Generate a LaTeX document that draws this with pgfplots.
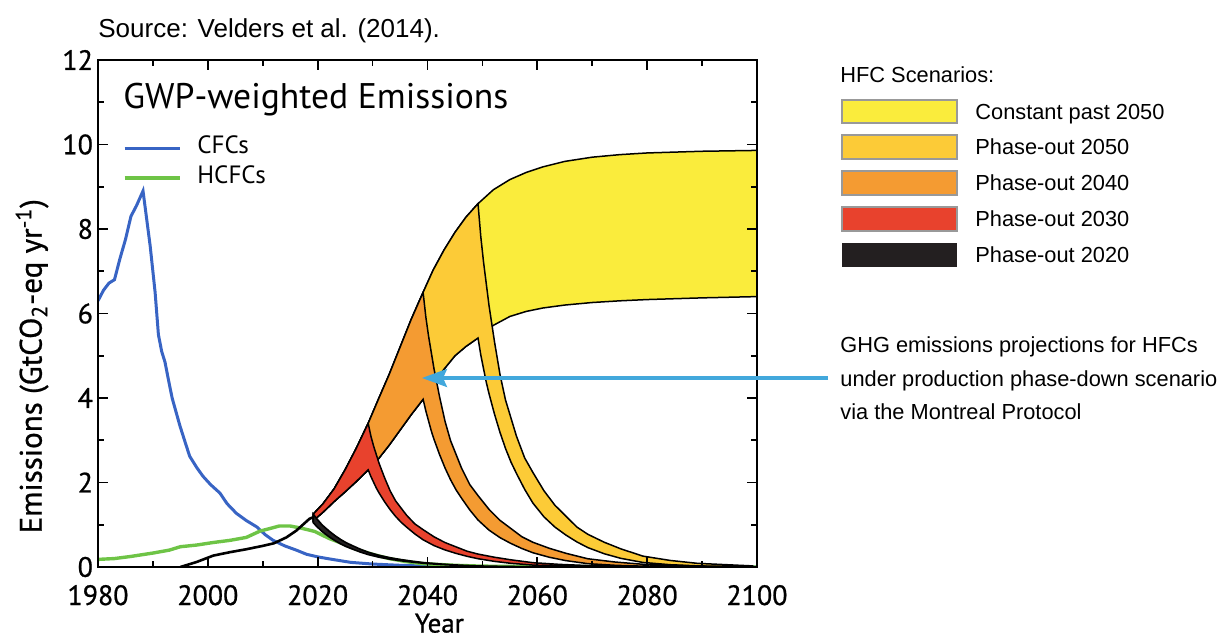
\documentclass[border=0pt]{standalone}
\usepackage{fontspec}
\setmainfont{Liberation Sans}
\newfontface\chartfont{PT Sans}
\newfontface\chartfontb{PT Sans}[FakeBold=0.8]
\usepackage{pgfplots}
\pgfplotsset{compat=1.18}
\usetikzlibrary{arrows.meta}
\definecolor{cYellow}{RGB}{250,236,60}
\definecolor{cGold}{RGB}{252,203,55}
\definecolor{cOrange}{RGB}{244,155,50}
\definecolor{cRed}{RGB}{232,66,45}
\definecolor{cBlack}{RGB}{35,31,32}
\definecolor{cBlue}{RGB}{56,100,196}
\definecolor{cGreen}{RGB}{110,196,70}
\definecolor{cArrow}{RGB}{66,168,220}
\begin{document}
\begin{tikzpicture}
\useasboundingbox (0,0) rectangle (614pt,319pt);
\begin{axis}[
  at={(49pt,35.5pt)}, anchor=south west,
  scale only axis, width=329.5pt, height=253.5pt,
  xmin=1980, xmax=2100, ymin=0, ymax=12,
  xtick={1980,2000,...,2100}, ytick={0,2,...,12},
  minor x tick num=1, minor y tick num=1,
  tick align=inside,
  major tick length=5pt, minor tick length=3pt,
  axis line style={line width=1.1pt},
  every tick/.style={black, line width=0.9pt},
  axis on top,
  /pgf/number format/assume math mode=true,
  /pgf/number format/set thousands separator={},
  ticklabel style={font=\chartfontb\fontsize{14}{14}\selectfont},
  xticklabel style={yshift=-5.5pt},
  yticklabel style={xshift=1pt},
  xlabel={Year},
  xlabel style={at={(axis description cs:0.518,-0.111)}, anchor=center, inner sep=1pt, font=\chartfontb\fontsize{13.5}{14}\selectfont},
  ylabel={Emissions (GtCO\textsubscript{2}-eq yr\textsuperscript{-1})},
  ylabel style={at={(axis description cs:-0.1,0.396)}, anchor=center, font=\chartfontb\fontsize{15.5}{16}\selectfont},
  legend style={at={(axis description cs:0.038,0.856)}, anchor=north west, draw=none, fill=none, inner sep=0pt, outer sep=0pt,
    font=\chartfont\fontsize{12.5}{13}\selectfont, row sep=0pt, nodes={inner sep=1pt, text height=9pt, text depth=4pt},
    /tikz/every odd column/.append style={column sep=7pt}},
  legend image code/.code={\draw[#1] (0pt,0pt) -- (27.5pt,0pt);},
  legend cell align=left,
]
% CFCs
\addplot[cBlue, line width=1.5pt] coordinates {
(1980,6.3) (1981,6.55) (1982,6.72) (1983,6.8) (1984,7.3) (1985,7.75) (1986,8.3) (1987,8.55) (1988.2,8.9) (1989,8.1) (1989.5,7.6) (1990.4,6.5) (1991,5.5) (1991.6,5.1) (1992.2,4.85) (1992.8,4.45) (1993.5,4.0) (1994.9,3.35) (1996,2.9) (1996.7,2.62) (1998,2.35) (1999.1,2.15) (2000.5,1.95) (2002.2,1.75) (2003.5,1.5) (2005.2,1.27) (2007,1.1) (2008.9,0.95) (2010.5,0.76) (2011.9,0.63) (2014,0.5) (2016.1,0.4) (2018,0.3) (2020,0.24) (2022.2,0.19) (2026,0.11) (2030,0.07) (2035,0.04) (2040,0.02) (2050,0.01) (2060,0) (2100,0)};
\addlegendentry{CFCs}
% HCFCs
\addplot[cGreen, line width=1.7pt] coordinates {
(1980,0.18) (1983,0.2) (1986,0.25) (1990,0.33) (1993,0.4) (1995,0.48) (1998,0.52) (2001,0.58) (2004,0.63) (2007,0.7) (2009.5,0.85) (2011,0.9) (2013,0.97) (2015,0.97) (2017,0.92) (2019.5,0.84) (2022,0.68) (2024.6,0.55) (2027,0.42) (2030,0.3) (2033,0.2) (2036,0.13) (2039,0.08) (2045,0.04) (2050,0.02) (2060,0.01) (2100,0)};
\addlegendentry{HCFCs}
% Constant past 2050
\addplot[fill=cYellow, draw=black, line width=0.75pt, forget plot] coordinates {
(2019.2,1.25) (2021,1.5) (2023,1.85) (2025,2.3) (2027,2.8) (2029.2,3.4) (2031,3.95) (2033,4.55) (2035,5.2) (2037,5.85) (2039.2,6.5) (2041,7.02) (2043,7.5) (2045,7.92) (2047,8.28) (2049.2,8.6) (2052,8.93) (2055,9.17) (2058,9.34) (2061,9.47) (2065,9.6) (2070,9.7) (2075,9.76) (2080,9.8) (2090,9.84) (2100,9.86)
(2100,6.4) (2090,6.37) (2080,6.33) (2075,6.3) (2070,6.26) (2065,6.2) (2061,6.13) (2058,6.05) (2055,5.93) (2052,5.72) (2049.2,5.42) (2047,5.22) (2045,5.0) (2043,4.68) (2041,4.33) (2039.2,3.97) (2037,3.6) (2035,3.24) (2033,2.88) (2031,2.55) (2029.2,2.3) (2027,2.02) (2025,1.78) (2023,1.55) (2021,1.3) (2019.2,1.1)} -- cycle;
% Phase-out 2050
\addplot[fill=cGold, draw=black, line width=0.75pt, forget plot] coordinates {
(2019.2,1.25) (2021,1.5) (2023,1.85) (2025,2.3) (2027,2.8) (2029.2,3.4) (2031,3.95) (2033,4.55) (2035,5.2) (2037,5.85) (2039.2,6.5) (2041,7.02) (2043,7.5) (2045,7.92) (2047,8.28) (2049.2,8.6)
(2049.7,7.826) (2050.2,7.224) (2050.7,6.708) (2051.2,6.192) (2052.2,5.332) (2053.2,4.558) (2054.2,3.956) (2055.2,3.526) (2056.2,3.096) (2057.7,2.58) (2059.2,2.236) (2061.2,1.806) (2063.2,1.462) (2065.2,1.204) (2067.2,0.946) (2069.2,0.774) (2072.2,0.585) (2075.2,0.43) (2079.2,0.258) (2084.2,0.155) (2089.2,0.086) (2099.2,0.026)
(2099.2,0) (2089.2,0.027) (2084.2,0.054) (2079.2,0.108) (2075.2,0.205) (2072.2,0.313) (2069.2,0.459) (2067.2,0.594) (2065.2,0.756) (2063.2,0.945) (2061.2,1.188) (2059.2,1.512) (2057.7,1.836) (2056.2,2.214) (2055.2,2.484) (2054.2,2.808) (2053.2,3.186) (2052.2,3.618) (2051.2,4.104) (2050.7,4.374) (2050.2,4.698) (2049.7,5.022) (2049.2,5.42)
(2047,5.22) (2045,5.0) (2043,4.68) (2041,4.33) (2039.2,3.97) (2037,3.6) (2035,3.24) (2033,2.88) (2031,2.55) (2029.2,2.3) (2027,2.02) (2025,1.78) (2023,1.55) (2021,1.3) (2019.2,1.1)} -- cycle;
% Phase-out 2040
\addplot[fill=cOrange, draw=black, line width=0.75pt, forget plot] coordinates {
(2019.2,1.25) (2021,1.5) (2023,1.85) (2025,2.3) (2027,2.8) (2029.2,3.4) (2031,3.95) (2033,4.55) (2035,5.2) (2037,5.85) (2039.2,6.5)
(2039.7,5.915) (2040.2,5.46) (2040.7,5.07) (2041.2,4.68) (2042.2,4.03) (2043.2,3.445) (2044.2,2.99) (2045.2,2.665) (2046.2,2.34) (2047.7,1.95) (2049.2,1.69) (2051.2,1.365) (2053.2,1.105) (2055.2,0.91) (2057.2,0.715) (2059.2,0.585) (2062.2,0.442) (2065.2,0.325) (2069.2,0.195) (2074.2,0.117) (2079.2,0.065) (2089.2,0.02) (2100,0.005)
(2100,0) (2089.2,0) (2079.2,0.02) (2074.2,0.04) (2069.2,0.079) (2065.2,0.151) (2062.2,0.23) (2059.2,0.337) (2057.2,0.437) (2055.2,0.556) (2053.2,0.695) (2051.2,0.873) (2049.2,1.112) (2047.7,1.35) (2046.2,1.628) (2045.2,1.826) (2044.2,2.064) (2043.2,2.342) (2042.2,2.66) (2041.2,3.017) (2040.7,3.216) (2040.2,3.454) (2039.7,3.692) (2039.2,3.97)
(2037,3.6) (2035,3.24) (2033,2.88) (2031,2.55) (2029.2,2.3) (2027,2.02) (2025,1.78) (2023,1.55) (2021,1.3) (2019.2,1.1)} -- cycle;
% Phase-out 2030
\addplot[fill=cRed, draw=black, line width=0.75pt, forget plot] coordinates {
(2019.2,1.25) (2021,1.5) (2023,1.85) (2025,2.3) (2027,2.8) (2029.2,3.4)
(2029.7,3.094) (2030.2,2.856) (2030.7,2.652) (2031.2,2.448) (2032.2,2.108) (2033.2,1.802) (2034.2,1.564) (2035.2,1.394) (2036.2,1.224) (2037.7,1.02) (2039.2,0.884) (2041.2,0.714) (2043.2,0.578) (2045.2,0.476) (2047.2,0.374) (2049.2,0.306) (2052.2,0.231) (2055.2,0.17) (2059.2,0.102) (2064.2,0.061) (2069.2,0.034) (2079.2,0.01) (2100,0)
(2079.2,0) (2069.2,0.012) (2064.2,0.023) (2059.2,0.046) (2055.2,0.087) (2052.2,0.133) (2049.2,0.196) (2047.2,0.253) (2045.2,0.322) (2043.2,0.403) (2041.2,0.506) (2039.2,0.644) (2037.7,0.782) (2036.2,0.943) (2035.2,1.058) (2034.2,1.196) (2033.2,1.357) (2032.2,1.541) (2031.2,1.748) (2030.7,1.863) (2030.2,2.001) (2029.7,2.139) (2029.2,2.3)
(2027,2.02) (2025,1.78) (2023,1.55) (2021,1.3) (2019.2,1.1)} -- cycle;
% Phase-out 2020
\addplot[fill=cBlack, draw=black, line width=0.8pt, forget plot] coordinates {
(2019.2,1.25) (2019.7,1.163) (2020.2,1.088) (2020.7,1.013) (2021.2,0.95) (2022.2,0.838) (2023.2,0.738) (2024.2,0.65) (2025.2,0.575) (2026.2,0.513) (2027.7,0.425) (2029.2,0.35) (2031.2,0.275) (2033.2,0.219) (2035.2,0.175) (2037.2,0.138) (2039.2,0.106) (2042.2,0.073) (2045.2,0.048) (2049.2,0.025) (2054.2,0.013) (2059.2,0.006) (2069.2,0)
(2059.2,0.003) (2054.2,0.0105) (2049.2,0.021) (2045.2,0.04) (2042.2,0.061) (2039.2,0.089) (2037.2,0.116) (2035.2,0.147) (2033.2,0.184) (2031.2,0.231) (2029.2,0.294) (2027.7,0.357) (2026.2,0.431) (2025.2,0.483) (2024.2,0.546) (2023.2,0.62) (2022.2,0.704) (2021.2,0.798) (2020.7,0.851) (2020.2,0.914) (2019.7,0.977) (2019.2,1.05)} -- cycle;
% HFC history
\addplot[black, line width=1.3pt, forget plot] coordinates {
(1995,0) (1998,0.12) (2001,0.27) (2004,0.35) (2007,0.42) (2010,0.5) (2012,0.56) (2014.3,0.7) (2016.1,0.86) (2018.5,1.14) (2019.2,1.18)};
\node[anchor=base west, inner sep=0pt, font=\chartfont\fontsize{17.8}{19}\selectfont] at (axis description cs:0.038,0.905) {GWP-weighted Emissions};
\end{axis}
% source
\node[anchor=base west, inner sep=0pt, font=\fontsize{13}{15}\selectfont] at (49pt,300.3pt) {Source: Velders et al. (2014).};
% HFC legend
\node[anchor=base west, inner sep=0pt, font=\fontsize{10.9}{13}\selectfont] at (420pt,277.6pt) {HFC Scenarios:};
\filldraw[fill=cYellow, draw=black!40, line width=0.7pt] (421pt,257.5pt) rectangle (478.5pt,269pt);
\filldraw[fill=cGold, draw=black!40, line width=0.7pt] (421pt,239.5pt) rectangle (478.5pt,251.5pt);
\filldraw[fill=cOrange, draw=black!40, line width=0.7pt] (421pt,221.5pt) rectangle (478.5pt,233.5pt);
\filldraw[fill=cRed, draw=black!40, line width=0.7pt] (421pt,203.5pt) rectangle (478.5pt,215.5pt);
\fill[cBlack] (421pt,185.5pt) rectangle (478.5pt,197.5pt);
\begin{scope}[every node/.style={anchor=base west, inner sep=0pt, font=\fontsize{10.9}{13}\selectfont}]
\node at (487.5pt,259.1pt) {Constant past 2050};
\node at (487.5pt,241.6pt) {Phase-out 2050};
\node at (487.5pt,223.6pt) {Phase-out 2040};
\node at (487.5pt,205.6pt) {Phase-out 2030};
\node at (487.5pt,187.6pt) {Phase-out 2020};
\node at (420pt,142.6pt) {GHG emissions projections for HFCs};
\node at (420pt,125.6pt) {under production phase-down scenario};
\node at (420pt,109.1pt) {via the Montreal Protocol};
\end{scope}
\draw[-{Stealth[length=12.5pt,width=9pt,inset=2pt]}, line width=1.6pt, cArrow] (414pt,130pt) -- (211pt,130pt);
\end{tikzpicture}
\end{document}
